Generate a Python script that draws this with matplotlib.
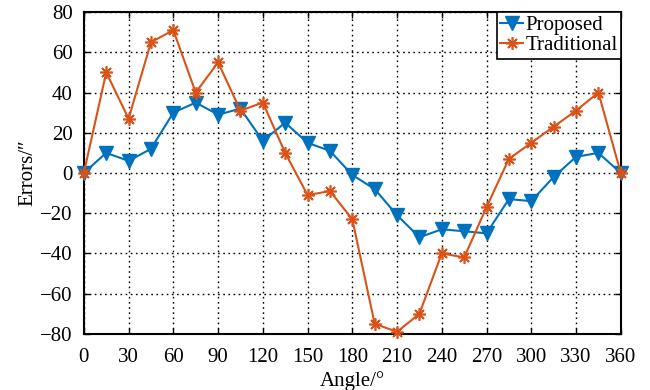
import matplotlib
matplotlib.use("Agg")
import matplotlib.pyplot as plt

plt.rcParams['font.family'] = ['Liberation Serif', 'DejaVu Serif']

angle = list(range(0, 361, 15))
proposed = [0, 10, 6, 12, 30, 35, 29, 32, 16, 25, 15, 11, -1, -8, -21, -32,
            -28, -29, -30, -13, -14, -2, 8, 10, 0]
traditional = [0, 50, 27, 65, 71, 40, 55, 31, 35, 10, -11, -9, -23, -75, -79, -70,
               -40, -42, -17, 7, 15, 23, 31, 40, 0]

fig = plt.figure(figsize=(6.5, 3.9), dpi=100)
ax = fig.add_axes([0.129, 0.144, 0.826, 0.825])

ax.plot(angle, proposed, color='#0072BD', marker='v', markersize=10, linewidth=1.5,
        label='Proposed', clip_on=False, zorder=3)
ax.plot(angle, traditional, color='#D95319', marker=(8, 2, 0), markersize=9,
        markeredgewidth=1.2, linewidth=1.5, label='Traditional', clip_on=False, zorder=4)

ax.set_xlim(0, 360)
ax.set_ylim(-80, 80)
ax.set_xticks(range(0, 361, 30))
ax.set_yticks(range(-80, 81, 20))
ax.tick_params(direction='in', top=True, right=True, labelsize=15, length=4, width=1)
ax.tick_params(axis='x', pad=10)
ax.tick_params(axis='y', pad=8)
ax.grid(True, linestyle=(0, (1.2, 2.5)), color='black', linewidth=1)
for s in ax.spines.values():
    s.set_linewidth(1.5)

ax.set_xlabel('Angle/°', fontsize=15, labelpad=3)
ax.set_ylabel('Errors/″', fontsize=15, labelpad=2)

leg = ax.legend(loc='upper right', fontsize=15, fancybox=False, edgecolor='black',
                framealpha=1, borderaxespad=0, handlelength=1.1, handletextpad=0.1,
                borderpad=0.15, labelspacing=0.05)
leg.get_frame().set_linewidth(1.2)

fig.savefig('out.png', dpi=100)
